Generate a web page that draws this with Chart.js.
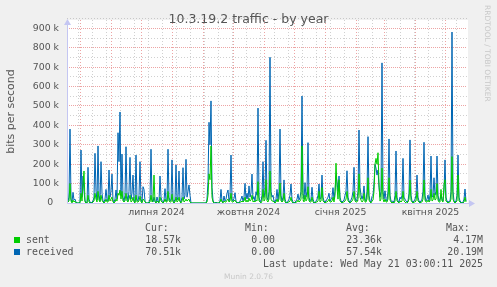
<!DOCTYPE html>
<html lang="uk">
<head>
<meta charset="UTF-8">
<title>10.3.19.2 traffic - by year</title>
<script src="https://cdn.jsdelivr.net/npm/chart.js@4"></script>
<style>
    body { margin: 0; background: #f0f0f0; }
    #wrap { position: relative; width: 497px; height: 287px; overflow: hidden; font-family: 'DejaVu Sans', sans-serif; color: #555; }
    #wrap canvas { position: absolute; left: 0; top: 0; }
    .t { position: absolute; white-space: pre; }
    .mono { font-family: 'DejaVu Sans Mono', monospace; font-size: 9.9px; line-height: 12px; }
    .r { text-align: right; }
    .sq { position: absolute; width: 6px; height: 6px; }
    #title { left: 0; width: 497px; text-align: center; top: 12px; font-size: 12.5px; line-height: 14px; }
    #rrd { left: 483px; top: 5px; writing-mode: vertical-rl; font-size: 7.5px; line-height: 9px; color: #c8c8c8; }
    #munin { left: 0; width: 497px; text-align: center; top: 272px; font-size: 7.5px; line-height: 10px; color: #c8c8c8; }
</style>
</head>
<body>
<div id="wrap">
    <canvas id="traffic" width="497" height="287"></canvas>
    <div class="t" id="title">10.3.19.2 traffic - by year</div>
    <div class="t" id="rrd">RRDTOOL / TOBI OETIKER</div>

    <div class="t mono" style="left:145px; top:222px">Cur:</div>
    <div class="t mono" style="left:245px; top:222px">Min:</div>
    <div class="t mono" style="left:346px; top:222px">Avg:</div>
    <div class="t mono" style="left:446px; top:222px">Max:</div>

    <div class="sq" style="left:14px; top:237px; background:#00cc00"></div>
    <div class="t mono" style="left:26px; top:234px">sent</div>
    <div class="t mono r" style="right:316px; top:234px">18.57k</div>
    <div class="t mono r" style="right:222px; top:234px">0.00</div>
    <div class="t mono r" style="right:115px; top:234px">23.36k</div>
    <div class="t mono r" style="right:14px; top:234px">4.17M</div>

    <div class="sq" style="left:14px; top:249px; background:#0066b3"></div>
    <div class="t mono" style="left:26px; top:246px">received</div>
    <div class="t mono r" style="right:316px; top:246px">70.51k</div>
    <div class="t mono r" style="right:222px; top:246px">0.00</div>
    <div class="t mono r" style="right:115px; top:246px">57.54k</div>
    <div class="t mono r" style="right:14px; top:246px">20.19M</div>

    <div class="t mono r" style="right:14px; top:258px">Last update: Wed May 21 03:00:11 2025</div>
    <div class="t" id="munin">Munin 2.0.76</div>
</div>

<script>
    // daily values in k bit/s, day 0 = 17 Apr 2024
    const received = [
        96,10,30,381,20,5,55,15,20,5,0,0,0,5,273,30,139,60,10,5,
        0,184,20,5,0,5,10,30,256,60,15,294,40,10,213,50,10,5,20,70,
        20,10,170,30,60,149,15,5,20,67,20,362,213,469,40,252,30,10,40,290,
        40,10,60,235,20,50,144,15,5,247,20,10,40,213,20,5,84,70,10,0,
        0,0,5,20,277,20,5,30,10,0,31,10,5,139,30,10,0,15,74,15,
        10,277,30,10,20,222,15,5,20,196,15,30,165,10,5,30,182,20,40,225,
        30,60,93,40,0,0,0,0,0,0,0,0,0,0,0,0,0,0,0,0,
        20,110,416,300,526,80,15,0,0,5,0,0,0,10,70,10,5,36,10,20,
        50,67,10,30,247,20,10,24,53,10,0,5,0,10,20,36,10,30,101,20,
        50,20,88,30,50,149,20,33,10,58,40,489,30,10,7,40,213,30,60,323,
        30,15,60,751,60,30,40,10,5,20,70,15,60,381,40,10,30,119,20,5,
        0,10,20,40,98,20,5,0,5,10,20,46,15,30,60,551,50,20,105,30,
        60,311,30,10,20,81,20,5,0,10,20,40,98,20,30,144,30,10,5,10,
        20,30,50,10,20,30,79,20,60,140,110,60,139,30,10,5,10,15,40,60,
        166,30,10,5,15,30,60,184,30,10,20,60,376,80,41,20,40,88,20,10,
        60,342,40,10,5,33,40,100,199,180,144,170,80,30,60,722,60,20,63,20,
        10,60,330,40,10,8,10,5,40,268,30,10,5,30,20,40,230,30,20,10,
        5,10,50,325,40,10,5,10,20,40,144,30,10,5,10,20,60,313,40,10,
        20,41,10,40,242,30,40,130,40,60,242,40,10,20,40,20,10,60,222,30,
        10,5,8,10,60,881,60,10,5,10,40,247,30,10,5,0,5,20,72,10
    ];
    const sent = [
        20,5,10,100,10,0,15,5,10,0,0,0,0,0,50,10,100,165,5,0,
        0,40,5,0,0,0,5,10,50,20,5,60,15,5,40,15,5,0,5,20,
        5,5,40,10,20,30,5,0,5,20,10,50,40,67,20,60,10,5,10,50,
        10,5,20,40,5,10,30,5,0,40,5,5,10,35,5,0,20,15,5,0,
        0,0,0,5,40,5,10,144,5,0,10,5,0,30,10,5,0,5,20,5,
        5,60,10,5,5,45,5,0,5,30,5,10,30,5,0,10,30,5,10,20,
        10,15,20,5,0,0,0,0,0,0,0,0,0,0,0,0,0,0,0,0,
        5,40,150,120,294,30,5,0,0,0,0,0,0,5,20,5,0,10,5,5,
        15,20,5,10,50,5,5,10,15,5,0,0,0,5,5,10,5,10,30,5,
        15,5,25,10,15,40,5,10,5,15,10,110,10,5,0,10,70,10,20,120,
        10,5,20,165,20,10,10,5,0,5,20,5,20,103,10,5,10,50,5,0,
        0,5,5,10,30,5,0,0,0,5,5,15,5,10,20,294,20,5,40,10,
        20,84,10,5,5,30,5,0,0,5,5,10,60,5,10,80,10,5,0,5,
        5,10,20,5,5,10,30,5,40,205,80,20,120,10,5,0,5,5,10,20,
        60,10,5,0,5,10,20,60,10,5,5,20,150,30,15,5,10,50,5,5,
        20,130,15,5,0,10,15,60,200,230,200,259,100,10,20,180,20,5,20,5,
        5,20,130,15,5,0,5,0,10,60,10,5,0,10,5,10,60,10,5,0,
        0,5,20,118,15,5,0,5,5,10,60,10,5,0,5,5,20,119,15,5,
        5,15,5,10,70,10,15,50,15,20,100,15,5,5,70,10,5,93,120,10,
        5,0,5,5,20,239,20,5,0,5,10,144,10,5,0,0,0,5,30,5
    ];

    const monthStarts = ['2024-05-01','2024-06-01','2024-07-01','2024-08-01','2024-09-01','2024-10-01',
        '2024-11-01','2024-12-01','2025-01-01','2025-02-01','2025-03-01','2025-04-01','2025-05-01'];
    const xLabelDates = ['2024-07-16','2024-10-16','2025-01-16','2025-04-16'];
    const xLabelTexts = ['липня 2024','жовтня 2024','січня 2025','квітня 2025'];
    const yTickValues = [0,100000,200000,300000,400000,500000,600000,700000,800000,900000];
    const yTickLabels = ['0  ','100 k','200 k','300 k','400 k','500 k','600 k','700 k','800 k','900 k'];

    const START = Date.UTC(2024, 3, 17, 12);
    const DAY = 86400000;
    const dayOf = s => (Date.parse(s + 'T00:00:00Z') - START) / DAY;

    const MAJOR = 'rgba(222,90,90,0.55)';
    const MINOR = 'rgba(150,150,150,0.45)';
    const AXIS = '#c4c6f2';
    const FONT = 'DejaVu Sans';

    const gridColor = c => c.tick && c.tick.kind === 'major' ? MAJOR
        : c.tick && c.tick.kind === 'minor' ? MINOR : 'rgba(0,0,0,0)';

    const plotDecor = {
        id: 'plotDecor',
        beforeDraw(chart) {
            const { ctx, chartArea: a } = chart;
            ctx.save();
            ctx.fillStyle = '#ffffff';
            ctx.fillRect(a.left, a.top, a.right - a.left + 1, a.bottom - a.top);
            ctx.restore();
        },
        afterDraw(chart) {
            const { ctx, chartArea: a } = chart;
            const x = Math.round(a.left) + 0.5, y = Math.round(a.bottom) + 0.5;
            ctx.save();
            ctx.strokeStyle = AXIS;
            ctx.fillStyle = AXIS;
            ctx.lineWidth = 1;
            ctx.beginPath();
            ctx.moveTo(x, y); ctx.lineTo(x, a.top + 2);
            ctx.moveTo(x, y); ctx.lineTo(a.right + 2, y);
            ctx.stroke();
            ctx.beginPath();
            ctx.moveTo(x - 3.5, a.top + 5); ctx.lineTo(x + 3.5, a.top + 5); ctx.lineTo(x, a.top - 1); ctx.closePath();
            ctx.moveTo(a.right + 2, y - 3.5); ctx.lineTo(a.right + 2, y + 3.5); ctx.lineTo(a.right + 8, y); ctx.closePath();
            ctx.fill();
            ctx.restore();
        }
    };

    const toPoints = arr => arr.map((v, i) => ({ x: i, y: v * 1000 }));

    new Chart(document.getElementById('traffic'), {
        type: 'line',
        data: {
            datasets: [
                { label: 'sent', data: toPoints(sent), borderColor: '#00cc00', borderWidth: 1, pointRadius: 0, tension: 0, fill: false },
                { label: 'received', data: toPoints(received), borderColor: '#0066b3', borderWidth: 1, pointRadius: 0, tension: 0, fill: false }
            ]
        },
        options: {
            responsive: false,
            animation: false,
            events: [],
            layout: { padding: { left: 0, top: 20, right: 30, bottom: 64 } },
            plugins: { legend: { display: false }, tooltip: { enabled: false }, title: { display: false } },
            scales: {
                x: {
                    type: 'linear',
                    min: 0,
                    max: 400,
                    afterBuildTicks(scale) {
                        const t = [];
                        for (let d = dayOf('2024-04-29'); d < 400; d += 14) t.push({ value: d, kind: 'minor' });
                        monthStarts.forEach(s => t.push({ value: dayOf(s), kind: 'major' }));
                        xLabelDates.forEach((s, i) => t.push({ value: dayOf(s), kind: 'label', text: xLabelTexts[i] }));
                        t.sort((p, q) => p.value - q.value);
                        scale.ticks = t;
                    },
                    afterFit(scale) { scale.height = 20; },
                    grid: { color: gridColor, drawTicks: false, lineWidth: 1 },
                    border: { display: false, dash: [1, 2] },
                    ticks: {
                        autoSkip: false,
                        maxRotation: 0,
                        padding: 4,
                        color: '#555',
                        font: { family: FONT, size: 9.33 },
                        callback: (v, i, ticks) => ticks[i].text || ''
                    }
                },
                y: {
                    type: 'linear',
                    min: 0,
                    max: 943000,
                    afterBuildTicks(scale) {
                        const t = [];
                        yTickValues.forEach((v, i) => {
                            t.push({ value: v, kind: v === 0 ? 'none' : 'major', text: yTickLabels[i] });
                            t.push({ value: v + 50000, kind: 'minor', text: '' });
                        });
                        t.sort((p, q) => p.value - q.value);
                        scale.ticks = t;
                    },
                    afterFit(scale) { scale.width = 67; },
                    grid: { color: gridColor, drawTicks: false, lineWidth: 1 },
                    border: { display: false, dash: c => c.tick && c.tick.kind === 'minor' ? [1, 2] : [1, 1] },
                    ticks: {
                        autoSkip: false,
                        padding: 8,
                        color: '#555',
                        font: { family: FONT, size: 9.33 },
                        callback: (v, i, ticks) => ticks[i].text || ''
                    },
                    title: {
                        display: true,
                        text: 'bits per second',
                        color: '#555',
                        font: { family: FONT, size: 11 },
                        padding: { top: 4.4, bottom: 0 }
                    }
                }
            }
        },
        plugins: [plotDecor]
    });
</script>
</body>
</html>
